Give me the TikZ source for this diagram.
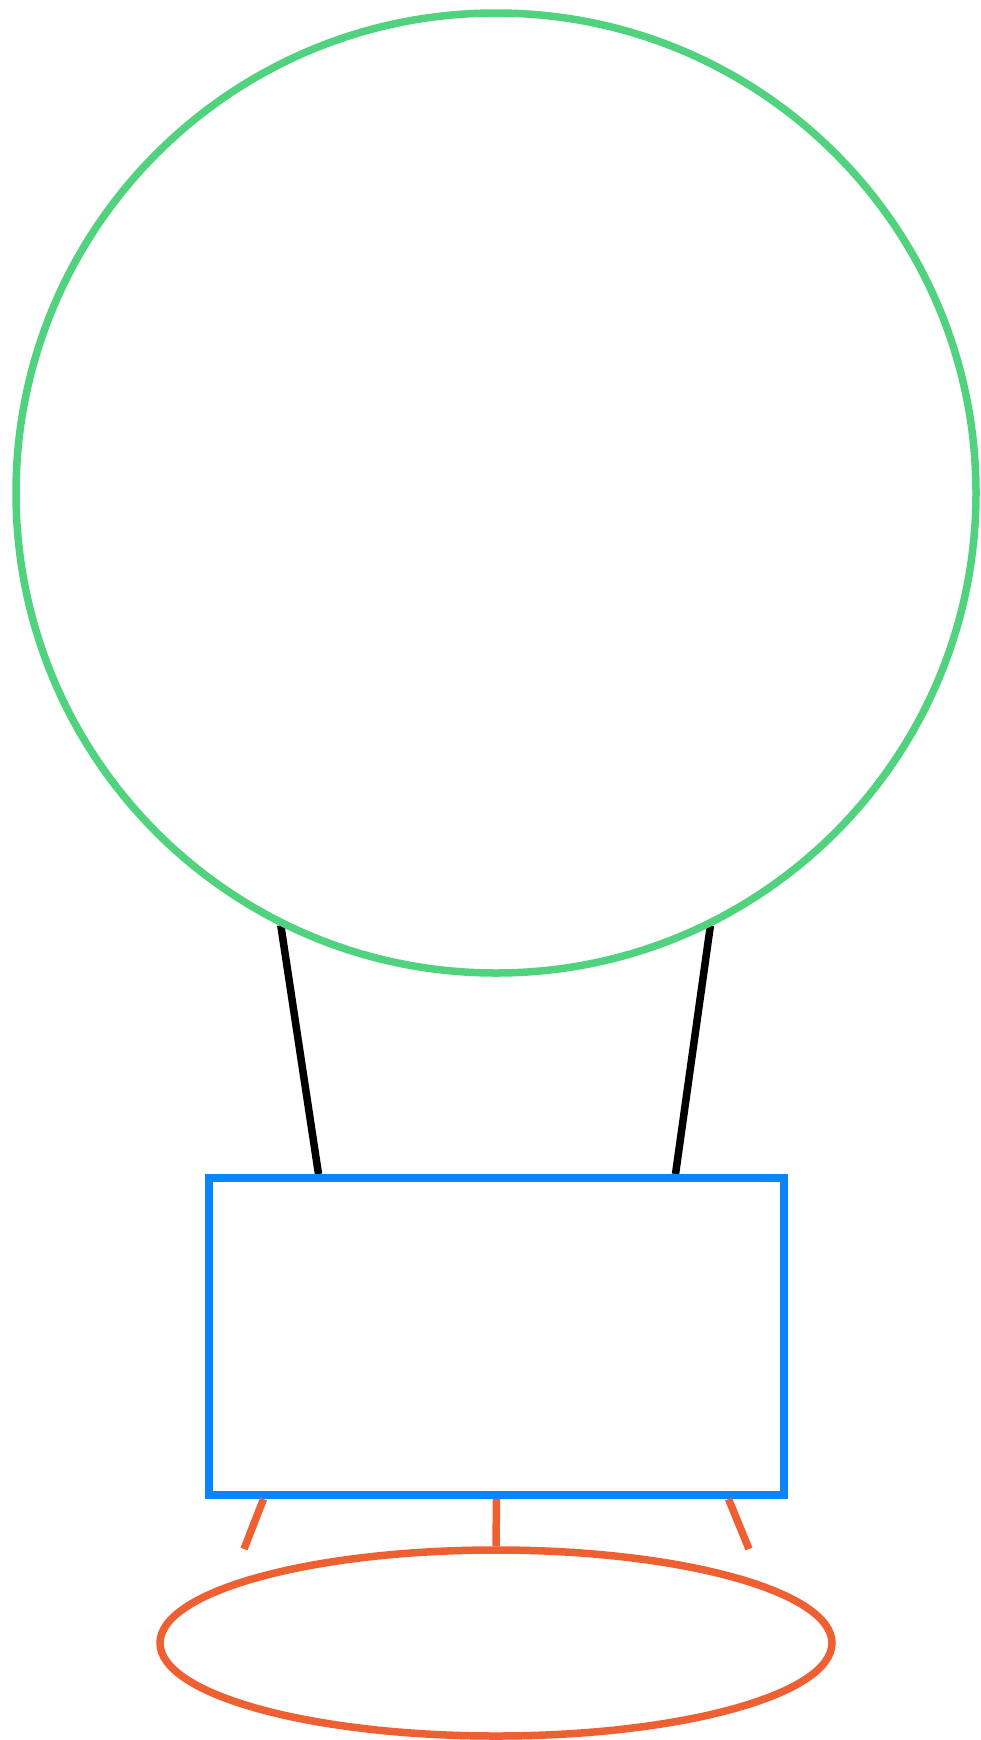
\documentclass[tikz,border=0pt]{standalone}
\usepackage{tikz}
\usetikzlibrary{shapes.geometric,backgrounds,calc}

\definecolor{ballgreen}{RGB}{81,210,127}
\definecolor{boxblue}{RGB}{10,132,255}
\definecolor{padorange}{RGB}{238,95,50}

\begin{document}
\begin{tikzpicture}[
  x=1pt,y=1pt,
  balloon/.style={circle,draw=ballgreen,line width=7.5pt,minimum size=960pt,inner sep=0pt},
  basket/.style={rectangle,draw=boxblue,line width=8pt,minimum width=575pt,minimum height=317pt,inner sep=0pt},
  pad/.style={ellipse,draw=padorange,line width=7.5pt,minimum width=672pt,minimum height=186pt,inner sep=0pt},
  rope/.style={black,line width=7.5pt},
  leg/.style={padorange,line width=7.5pt}
]
\useasboundingbox (0,0) rectangle (980,-1740);

\node[balloon] (ball) at (496,-493) {};
\node[basket] (box) at (496.5,-1336.5) {};
\node[pad] (base) at (496,-1643) {};

\coordinate (legL) at (244,-1549);
\coordinate (legR) at (749,-1549);

% ropes go under the balloon outline
\begin{scope}[on background layer]
\foreach \a/\s in {-116.46/-178,-63.65/179} \draw[rope] ($(ball.center)+(\a:483)$) -- ([xshift=\s pt]box.north);
\end{scope}

\foreach \s/\e in {-233/legL,0/base.north,232/legR} \draw[leg] ([xshift=\s pt]box.south) -- (\e);
\end{tikzpicture}
\end{document}
